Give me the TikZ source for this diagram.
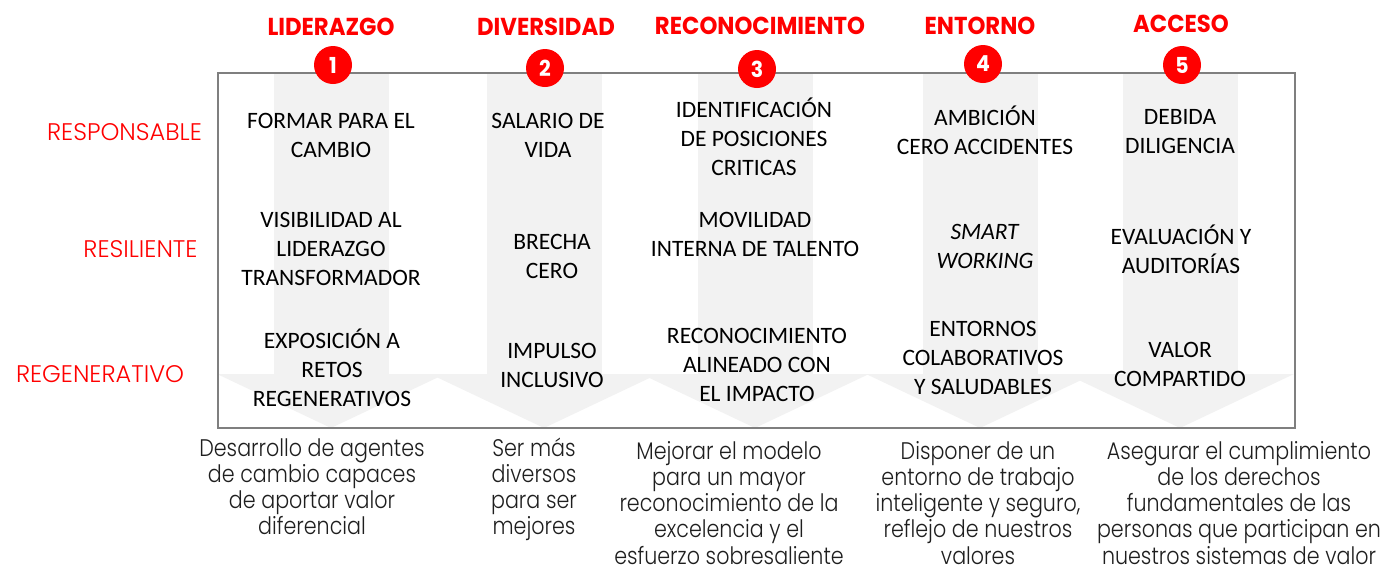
\documentclass[tikz,border=0pt]{standalone}
\usepackage{fontspec}
\setmainfont{Carlito}
\newfontfamily\fdesc[FakeStretch=0.86]{Poppins Light}
\newfontfamily\flvl[FakeStretch=1.0]{Poppins Light}
\newfontfamily\fttl[FakeStretch=0.93]{Poppins}
\definecolor{rd}{HTML}{FF0000}
\definecolor{ag}{HTML}{F2F2F2}
\definecolor{fr}{HTML}{7F7F7F}
\definecolor{tx}{HTML}{1E1E1E}
\newcommand\st{\rule{0pt}{22pt}}
\begin{document}
\begin{tikzpicture}[x=1pt,y=-1pt,
  mid/.style={inner sep=0pt,anchor=north,align=center,text=black,font=\fontsize{23.5}{29}\selectfont},
  desc/.style={inner sep=0pt,anchor=north,align=center,text=tx,font=\fdesc\fontsize{24}{26.2}\selectfont},
  lvl/.style={inner sep=0pt,anchor=base,text=rd,font=\flvl\fontsize{24}{26}\selectfont},
  ttl/.style={inner sep=0pt,anchor=base,text=rd,font=\fttl\bfseries\fontsize{24.5}{26}\selectfont},
  num/.style={circle,fill=rd,minimum size=38pt,inner sep=0pt,text=white,font=\fttl\bfseries\fontsize{22}{22}\selectfont}
]
\useasboundingbox (0,0) rectangle (1383,566);
% arrows
\begin{scope}
\clip (218,73) rectangle (1295,428);
\foreach \c in {331,544,755,980,1180}{
  \fill[ag] (\c-57.5,73) rectangle (\c+57.5,375);
  \fill[ag] (\c-114,374) -- (\c+114,374) -- (\c,428) -- cycle;
}
\end{scope}
\draw[fr,line width=2pt] (218,73) rectangle (1295,428);
% numbered circles
\node[num] (n1) at (333,65) {1};
\node[num] (n2) at (545,68) {2};
\node[num] (n3) at (757,69) {3};
\node[num] (n4) at (983,64) {4};
\node[num] (n5) at (1182,65) {5};
% titles
\node[ttl] (t1) at (331,35) {LIDERAZGO};
\node[ttl] (t2) at (546,35) {DIVERSIDAD};
\node[ttl] (t3) at (760,34) {RECONOCIMIENTO};
\node[ttl] (t4) at (980,34) {ENTORNO};
\node[ttl] (t5) at (1181,32) {ACCESO};
% level labels
\node[lvl] (l1) at (124.5,140) {RESPONSABLE};
\node[lvl] (l2) at (140.5,257) {RESILIENTE};
\node[lvl] (l3) at (100,382) {REGENERATIVO};
% column 1
\node[mid] (a1) at (331,128-22) {\st FORMAR PARA EL\\CAMBIO};
\node[mid] (a2) at (331,227.5-22) {\st VISIBILIDAD AL\\LIDERAZGO\\TRANSFORMADOR};
\node[mid] (a3) at (332,348-22) {\st EXPOSICIÓN A\\RETOS\\REGENERATIVOS};
% column 2
\node[mid] (b1) at (548,128-22) {\st SALARIO DE\\VIDA};
\node[mid] (b2) at (552,249.5-22) {\st BRECHA\\CERO};
\node[mid] (b3) at (552,358-22) {\st IMPULSO\\INCLUSIVO};
% column 3
\node[mid] (c1) at (754,117-22) {\st IDENTIFICACIÓN\\DE POSICIONES\\CRITICAS};
\node[mid] (c2) at (755,227.5-22) {\st MOVILIDAD\\INTERNA DE TALENTO};
\node[mid] (c3) at (757,343-22) {\st RECONOCIMIENTO\\ALINEADO CON\\EL IMPACTO};
% column 4
\node[mid] (d1) at (985,125-22) {\st AMBICIÓN\\CERO ACCIDENTES};
\node[mid] (d2) at (985,239-22) {\st\textit{SMART}\\\textit{WORKING}};
\node[mid] (d3) at (983,336-22) {\st ENTORNOS\\COLABORATIVOS\\Y SALUDABLES};
% column 5
\node[mid] (e1) at (1180,124-22) {\st DEBIDA\\DILIGENCIA};
\node[mid] (e2) at (1181,244-22) {\st EVALUACIÓN Y\\AUDITORÍAS};
\node[mid] (e3) at (1180,357-22) {\st VALOR\\COMPARTIDO};
% descriptions
\node[desc] (g1) at (312,456-22) {\st Desarrollo de agentes\\de cambio capaces\\de aportar valor\\diferencial};
\node[desc] (g2) at (534,456-22) {\st Ser más\\diversos\\para ser\\mejores};
\node[desc] (g3) at (729,459-22) {\st Mejorar el modelo\\para un mayor\\reconocimiento de la\\excelencia y el\\esfuerzo sobresaliente};
\node[desc] (g4) at (978,459-22) {\st Disponer de un\\entorno de trabajo\\inteligente y seguro,\\reflejo de nuestros\\valores};
\node[desc] (g5) at (1239,459-22) {\st Asegurar el cumplimiento\\de los derechos\\fundamentales de las\\personas que participan en\\nuestros sistemas de valor};
\end{tikzpicture}
\end{document}
